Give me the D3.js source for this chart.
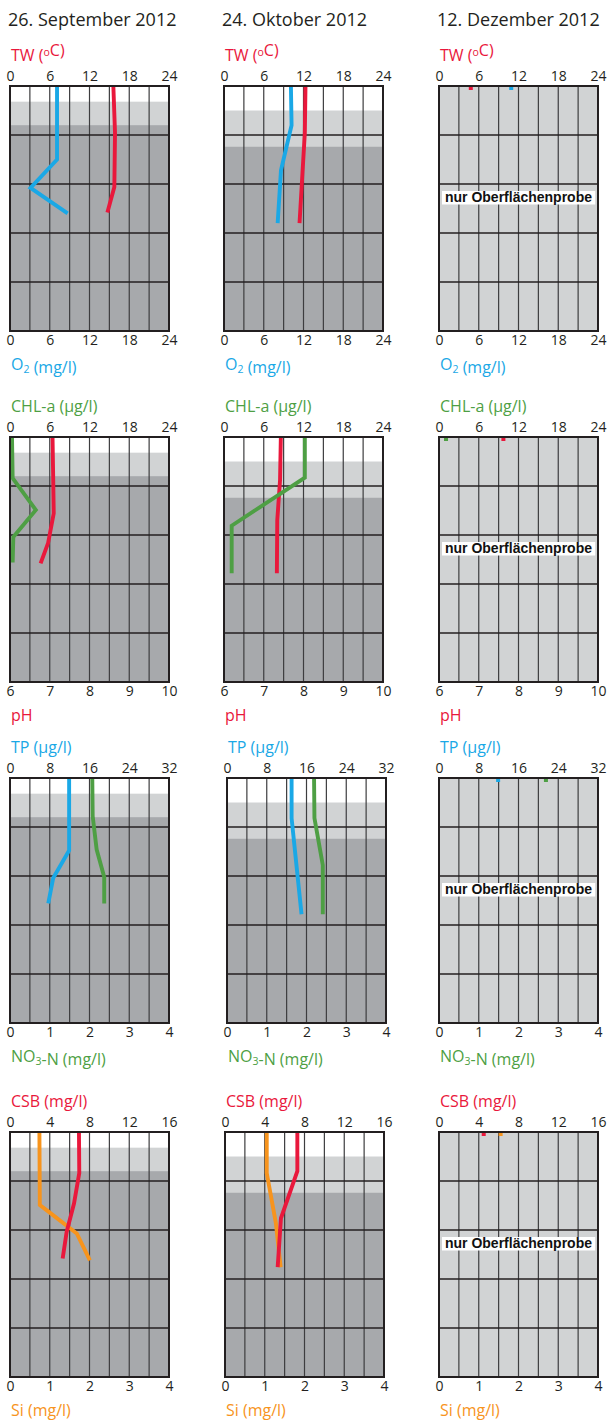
<!DOCTYPE html>
<html>
<head>
<meta charset="utf-8">
<script src="https://cdn.jsdelivr.net/npm/d3@7"></script>
<style>
  html, body { margin: 0; padding: 0; background: #fff; }
  svg { display: block; }
</style>
</head>
<body>
<svg id="chart" width="608" height="1420"></svg>
<script>
// ---------------- DATA ----------------
const dates = ["26. September 2012", "24. Oktober 2012", "12. Dezember 2012"];
const depthDomain = [0, 25];
const depthGrid = [5, 10, 15, 20];

// layer shading per date (depth of white / light-grey zones)
const whiteDepth = [1.6, 2.5, 0];
const lightDepth = [4.0, 6.2, 25];
const surfaceOnly = [false, false, true];
const surfaceLabel = "nur Oberflächenprobe";

// axis domains & tick labels per row
const topDomains = [[0, 24], [0, 24], [0, 32], [0, 16]];
const topTicks = [[0, 6, 12, 18, 24], [0, 6, 12, 18, 24], [0, 8, 16, 24, 32], [0, 4, 8, 12, 16]];
const bottomDomains = [[0, 24], [6, 10], [0, 4], [0, 4]];
const bottomTicks = [[0, 6, 12, 18, 24], [6, 7, 8, 9, 10], [0, 1, 2, 3, 4], [0, 1, 2, 3, 4]];

// [depth, value] pairs
const twSep = [[0, 15.6], [4.8, 15.85], [10.3, 15.75], [12.9, 14.7]];
const twOct = [[0, 12.3], [4.8, 12.2], [14, 11.4]];
const twDec = [[0, 4.8]];
const o2Sep = [[0, 7.1], [7.5, 7.1], [10.4, 3.1], [13, 8.7]];
const o2Oct = [[0, 10.1], [4, 10.2], [8.6, 8.6], [14, 8.1]];
const o2Dec = [[0, 10.9]];

const chlSep = [[0, 0.3], [4.2, 0.4], [7.45, 3.9], [10.2, 0.5], [12.8, 0.4]];
const chlOct = [[0, 12.2], [4.15, 12.2], [9.05, 1.16], [13.9, 1.16]];
const chlDec = [[0, 1.06]];
const phSep = [[0, 7.07], [7.8, 7.1], [10.8, 6.96], [12.9, 6.77]];
const phOct = [[0, 7.43], [4.4, 7.41], [8.5, 7.34], [13.9, 7.33]];
const phDec = [[0, 7.62]];

const tpSep = [[0, 11.9], [7.4, 11.9], [10.2, 8.7], [12.8, 7.7]];
const tpOct = [[0, 13.0], [4.1, 13.0], [13.9, 15.0]];
const tpDec = [[0, 11.9]];
const no3Sep = [[0, 2.07], [3.9, 2.08], [7.3, 2.18], [10.1, 2.37], [12.8, 2.37]];
const no3Oct = [[0, 2.19], [4.1, 2.2], [8.9, 2.41], [13.9, 2.41]];
const no3Dec = [[0, 2.69]];

const csbSep = [[0, 6.94], [4.2, 6.97], [7.3, 6.44], [10.2, 5.7], [12.9, 5.3]];
const csbOct = [[0, 7.28], [4.0, 7.28], [8.8, 5.63], [13.8, 5.3]];
const csbDec = [[0, 4.5]];
const siSep = [[0, 0.74], [7.45, 0.75], [8.1, 0.96], [10.35, 1.68], [13.1, 2.01]];
const siOct = [[0, 1.05], [4.2, 1.05], [9.3, 1.28], [13.8, 1.4]];
const siDec = [[0, 1.55]];

const topSeries = [[twSep, twOct, twDec], [chlSep, chlOct, chlDec], [tpSep, tpOct, tpDec], [csbSep, csbOct, csbDec]];
const bottomSeries = [[o2Sep, o2Oct, o2Dec], [phSep, phOct, phDec], [no3Sep, no3Oct, no3Dec], [siSep, siOct, siDec]];

// ---------------- STYLE / LAYOUT ----------------
const RED = "#e9183c", BLUE = "#1aa8e6", GREEN = "#4e9f44", ORANGE = "#f7941d";
const topColors = [RED, GREEN, BLUE, RED];
const bottomColors = [BLUE, RED, GREEN, ORANGE];
// title segments: [text, kind]
const topTitles = [
  [["TW (", ""], ["o", "sup"], ["C)", ""]],
  [["CHL-a (µg/l)", ""]],
  [["TP (µg/l)", ""]],
  [["CSB (mg/l)", ""]]
];
const bottomTitles = [
  [["O", ""], ["2", "sub"], [" (mg/l)", ""]],
  [["pH", ""]],
  [["NO", ""], ["3", "sub"], ["-N (mg/l)", ""]],
  [["Si (mg/l)", ""]]
];

const rowTops = [86, 437, 778, 1132];
const panelLefts = [[10, 224, 439], [10, 224, 439], [10, 227, 439], [10, 225, 439]];
const PW = 159, PH = 245;
const DARK = "#a7a9ac", LIGHT = "#d1d3d4", INK = "#231f20";
const FONT = "'Open Sans', 'Noto Sans', sans-serif";

const svg = d3.select("#chart");

function richText(sel, segs) {
  segs.forEach(([t, kind]) => {
    if (kind === "sup") {
      sel.append("tspan").style("font-size", "10.5px").attr("dy", -5).text(t);
      sel.append("tspan").attr("dy", 5).text("");
    } else if (kind === "sub") {
      sel.append("tspan").style("font-size", "10.5px").attr("dy", 3).text(t);
      sel.append("tspan").attr("dy", -3).text("");
    } else {
      sel.append("tspan").text(t);
    }
  });
}

// date titles
dates.forEach((d, c) => {
  svg.append("text")
    .attr("x", panelLefts[0][c] - 2)
    .attr("y", 26)
    .style("font-family", FONT)
    .style("font-size", "18px")
    .attr("fill", "#231f20")
    .text(d);
});

for (let r = 0; r < 4; r++) {
  for (let c = 0; c < 3; c++) {
    const left = panelLefts[r][c], top = rowTops[r];
    const g = svg.append("g");
    const xTop = d3.scaleLinear().domain(topDomains[r]).range([left, left + PW]);
    const xBot = d3.scaleLinear().domain(bottomDomains[r]).range([left, left + PW]);
    const y = d3.scaleLinear().domain(depthDomain).range([top, top + PH]);

    // background zones
    g.append("rect").attr("x", left).attr("y", y(0)).attr("width", PW).attr("height", PH).attr("fill", DARK);
    g.append("rect").attr("x", left).attr("y", y(0)).attr("width", PW)
      .attr("height", y(lightDepth[c]) - y(0)).attr("fill", LIGHT);
    if (whiteDepth[c] > 0) {
      g.append("rect").attr("x", left).attr("y", y(0)).attr("width", PW)
        .attr("height", y(whiteDepth[c]) - y(0)).attr("fill", "#fff");
    }

    // grid lines
    const d0 = topDomains[r][0], d1 = topDomains[r][1];
    const vGrid = d3.range(1, 8).map(i => d0 + i * (d1 - d0) / 8);
    g.selectAll(".vg").data(vGrid).enter().append("line")
      .attr("x1", v => xTop(v)).attr("x2", v => xTop(v))
      .attr("y1", y(0)).attr("y2", y(depthDomain[1]))
      .attr("stroke", "#3d3d3f").attr("stroke-width", 1.2);
    g.selectAll(".hg").data(depthGrid).enter().append("line")
      .attr("x1", left).attr("x2", left + PW)
      .attr("y1", v => y(v)).attr("y2", v => y(v))
      .attr("stroke", INK).attr("stroke-width", 1.3);

    // series
    const pairs = [[topSeries[r][c], xTop, topColors[r]], [bottomSeries[r][c], xBot, bottomColors[r]]];
    [pairs[1], pairs[0]].forEach(([data, xs, col]) => {
      if (data.length > 1) {
        const line = d3.line().x(p => xs(p[1])).y(p => y(p[0]));
        g.append("path").attr("d", line(data)).attr("fill", "none")
          .attr("stroke", col).attr("stroke-width", 3.9)
          .attr("stroke-linejoin", "miter").attr("stroke-linecap", "butt");
      } else {
        g.selectAll(null).data(data).enter().append("rect")
          .attr("x", p => xs(p[1]) - 2).attr("y", p => y(p[0]) + 1)
          .attr("width", 4).attr("height", 3).attr("fill", col);
      }
    });

    // frame
    g.append("rect").attr("x", left).attr("y", top).attr("width", PW).attr("height", PH)
      .attr("fill", "none").attr("stroke", INK).attr("stroke-width", 2);

    // axes
    const fmt = d3.format("d");
    const axT = g.append("g").attr("transform", `translate(0,${top - 5})`)
      .call(d3.axisTop(xTop).tickValues(topTicks[r]).tickFormat(fmt).tickSize(0).tickPadding(0));
    const axB = g.append("g").attr("transform", `translate(0,${top + PH + 4})`)
      .call(d3.axisBottom(xBot).tickValues(bottomTicks[r]).tickFormat(fmt).tickSize(0).tickPadding(0));
    [axT, axB].forEach(ax => {
      ax.select(".domain").remove();
      ax.selectAll("text").style("font-size", "14px").attr("fill", INK)
        .style("font-family", FONT);
    });

    // axis titles
    const tt = g.append("text").attr("x", left + 1).attr("y", top - 25)
      .style("font-family", FONT).style("font-size", "16px").attr("fill", topColors[r]);
    richText(tt, topTitles[r]);
    const bt = g.append("text").attr("x", left + 1).attr("y", top + PH + 39)
      .style("font-family", FONT).style("font-size", "16px").attr("fill", bottomColors[r]);
    richText(bt, bottomTitles[r]);

    // surface-only label
    if (surfaceOnly[c]) {
      const lbl = g.append("text").attr("x", left + PW / 2).attr("y", top + 111.5)
        .attr("dy", "0.35em").attr("text-anchor", "middle")
        .style("font-family", "'Liberation Sans', Arial, sans-serif")
        .style("font-weight", "bold").style("font-size", "14px").attr("fill", "#111")
        .text(surfaceLabel);
      const bb = lbl.node().getBBox();
      g.insert("rect", () => lbl.node())
        .attr("x", bb.x - 3).attr("y", top + 105).attr("width", bb.width + 6).attr("height", 13.5)
        .attr("fill", "#fff");
    }
  }
}
</script>
</body>
</html>
